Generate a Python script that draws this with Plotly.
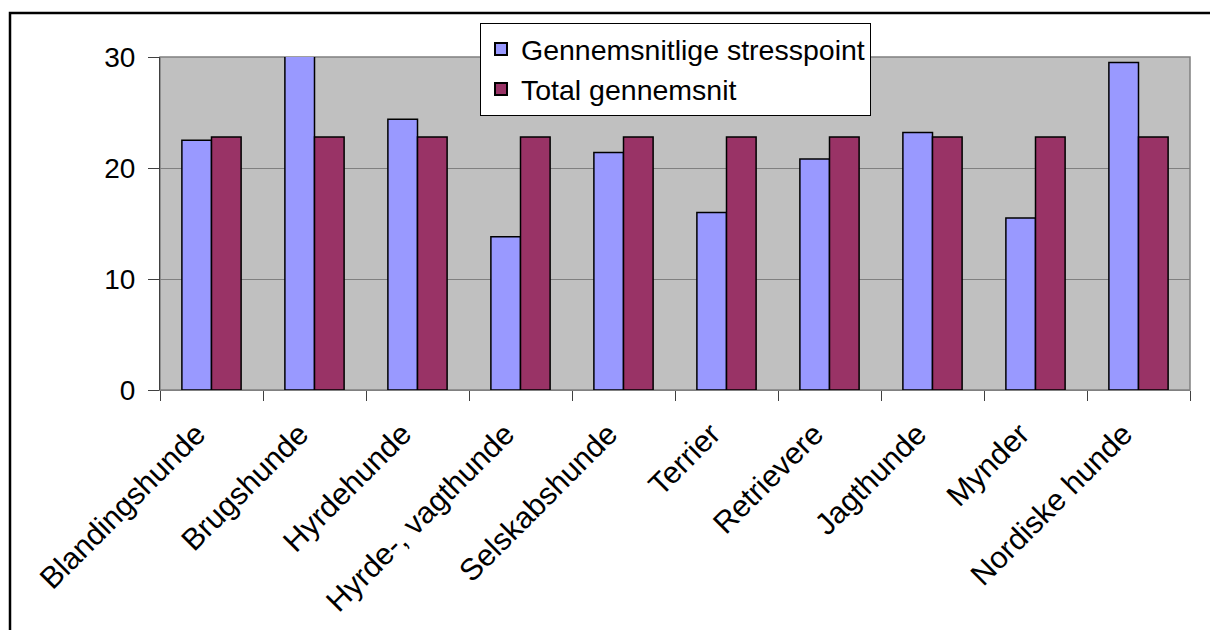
import plotly.graph_objects as go

categories = ["Blandingshunde", "Brugshunde", "Hyrdehunde", "Hyrde-, vagthunde",
              "Selskabshunde", "Terrier", "Retrievere", "Jagthunde", "Mynder", "Nordiske hunde"]
stress = [22.5, 30.2, 24.4, 13.8, 21.4, 16.0, 20.8, 23.2, 15.5, 29.5]
total = [22.8] * 10
series_names = ["Gennemsnitlige stresspoint", "Total gennemsnit"]
y_ticks = [0, 10, 20, 30]

# page body has an 8px margin, so figure coords = screen coords - 8
OFF = 8
W, H = 1218 - OFF, 630 - OFF
L = 160 - OFF
T = 57 - OFF
R = W - (1190 - OFF)
B = H - (390 - OFF)
pw, ph = W - L - R, H - T - B

def px(x):
    return (x - OFF - L) / pw

def py(y):
    return (H - B - (y - OFF)) / ph

fig = go.Figure()
fig.add_trace(go.Bar(x=categories, y=stress, name=series_names[0],
                     marker=dict(color="#9999FF", line=dict(color="black", width=1.5)),
                     cliponaxis=False))
fig.add_trace(go.Bar(x=categories, y=total, name=series_names[1],
                     marker=dict(color="#993366", line=dict(color="black", width=1.5)),
                     cliponaxis=False))

fig.update_layout(
    width=W, height=H,
    margin=dict(l=L, r=R, t=T, b=B),
    paper_bgcolor="white",
    plot_bgcolor="#C0C0C0",
    font=dict(family="Liberation Sans, Arial, sans-serif", size=28, color="black"),
    barmode="group",
    bargap=0.425,
    bargroupgap=0,
    showlegend=True,
    legend=dict(x=px(480), y=py(23), xanchor="left", yanchor="top",
                bgcolor="white", bordercolor="black", borderwidth=1,
                font=dict(size=28.5), tracegroupgap=0, itemsizing="constant"),
    xaxis=dict(tickangle=-45, showgrid=False, ticks="outside", ticklen=10,
               tickcolor="#404040", showline=True, linecolor="#808080", linewidth=1,
               tickson="boundaries", ticklabelstandoff=13, ticklabelshift=-15,
               tickfont=dict(size=30.5)),
    yaxis=dict(range=[0, 30], tickvals=y_ticks, showgrid=True, gridcolor="#808080",
               gridwidth=1, ticks="outside", ticklen=11, tickcolor="#404040",
               showline=True, linecolor="#404040", linewidth=1, zeroline=False,
               ticklabelstandoff=7),
    shapes=[
        dict(type="rect", xref="paper", yref="paper", x0=0, x1=1, y0=0, y1=1,
             line=dict(color="#808080", width=1.5), layer="below"),
        dict(type="rect", xref="paper", yref="paper", x0=px(10), x1=px(1240),
             y0=py(13), y1=py(650), line=dict(color="black", width=2.5)),
    ],
)

fig.write_html("out.html")
